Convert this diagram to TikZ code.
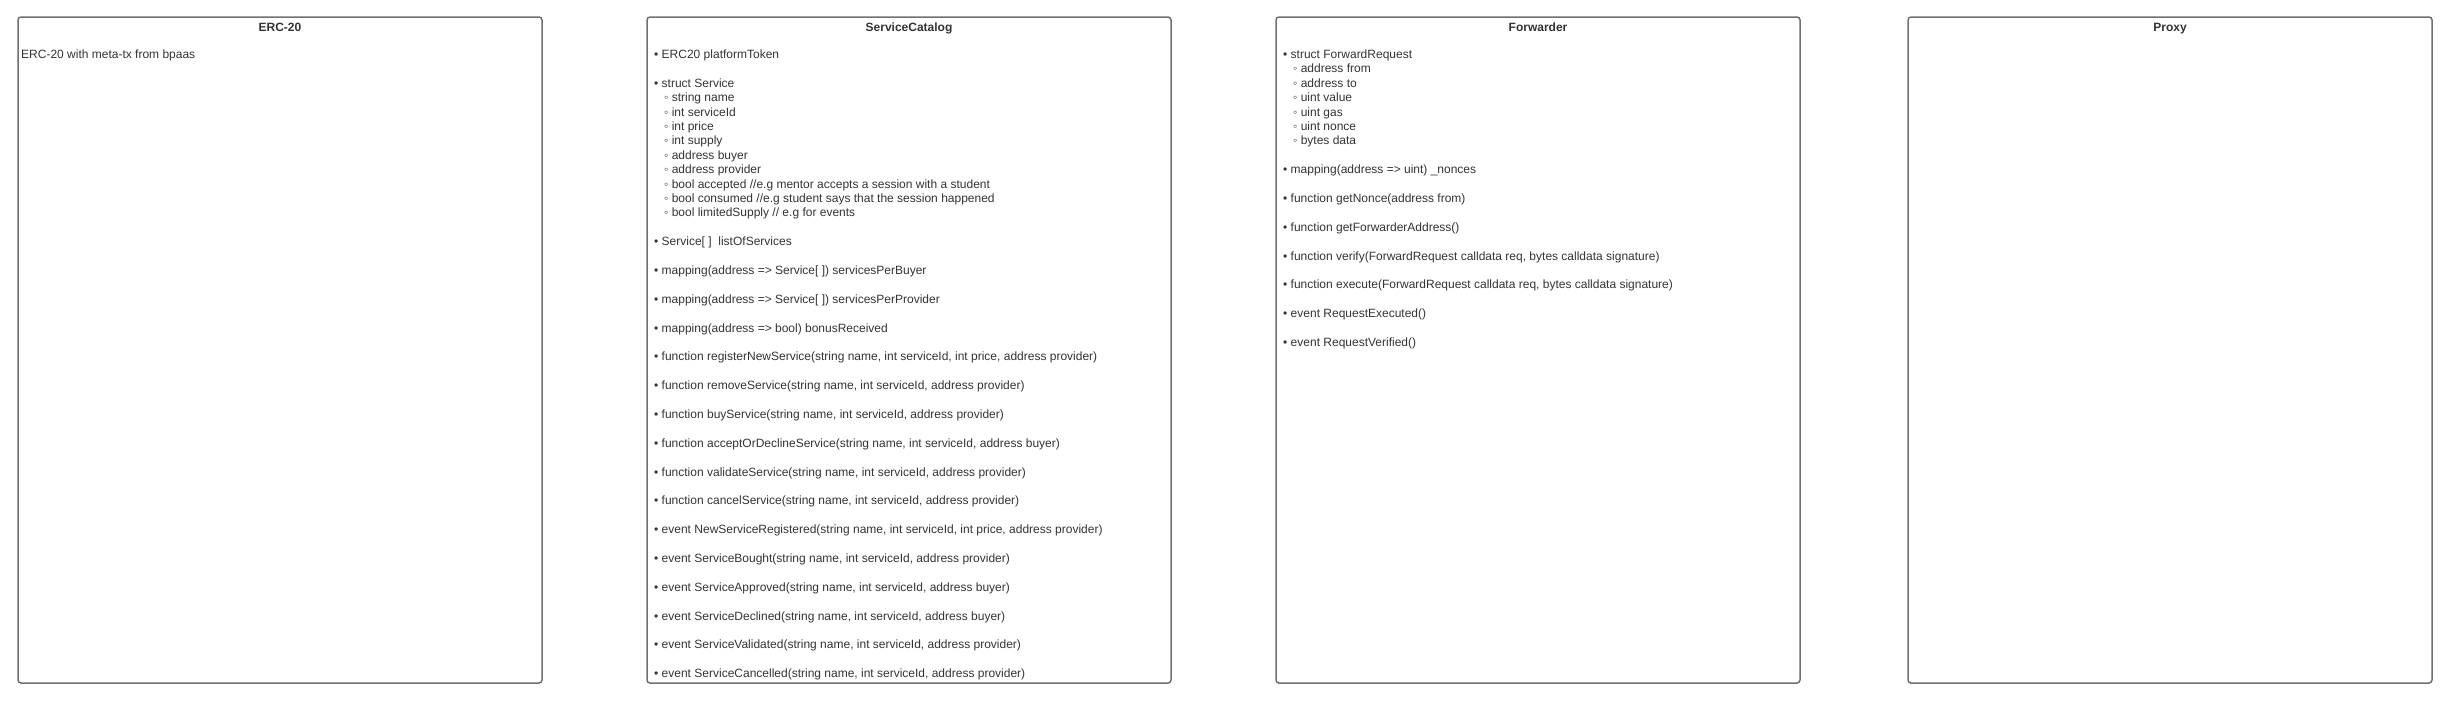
\documentclass[tikz,border=0pt]{standalone}
\usepackage{fontspec}
\setmainfont{Liberation Sans}
\definecolor{inkgray}{HTML}{333333}
\definecolor{framegray}{HTML}{707070}
\newcommand{\fieldline}[1]{\hspace*{10pt}◦ #1}
\newcommand{\gap}{\\[14.4pt]}

\begin{document}
\begin{tikzpicture}[x=1pt, y=-1pt,
    box/.style={draw=framegray, line width=1.5pt, rounded corners=3pt},
    title/.style={font=\bfseries\fontsize{12}{14.4}\selectfont, text=inkgray, inner sep=0pt, anchor=base},
    body/.style={font=\fontsize{12}{14.4}\selectfont, text=inkgray, align=left, anchor=north west, inner sep=0pt}]

    \useasboundingbox (0,0) rectangle (2449,702);

    % 1. The four contract boxes (width 524, height 666)
    \draw[box] (18,17) rectangle (542,683);
    \draw[box] (647,17) rectangle (1171,683);
    \draw[box] (1276,17) rectangle (1800,683);
    \draw[box] (1908,17) rectangle (2432,683);

    % 2. Titles
    \node[title] (ercTitle) at (280,31) {ERC-20};
    \node[title] (catalogTitle) at (909,31) {ServiceCatalog};
    \node[title] (forwarderTitle) at (1538,31) {Forwarder};
    \node[title] (proxyTitle) at (2170,31) {Proxy};

    % 3. Contents
    \node[body] (ercText) at (21,49.5) {ERC-20 with meta-tx from bpaas};

    \node[body] (catalogText) at (654,49.5) {%
        • ERC20 platformToken\gap
        • struct Service\\
        \fieldline{string name}\\
        \fieldline{int serviceId}\\
        \fieldline{int price}\\
        \fieldline{int supply}\\
        \fieldline{address buyer}\\
        \fieldline{address provider}\\
        \fieldline{bool accepted //e.g mentor accepts a session with a student}\\
        \fieldline{bool consumed //e.g student says that the session happened}\\
        \fieldline{bool limitedSupply // e.g for events}\gap
        • Service[ ]\ \ listOfServices\gap
        • mapping(address => Service[ ]) servicesPerBuyer\gap
        • mapping(address => Service[ ]) servicesPerProvider\gap
        • mapping(address => bool) bonusReceived\gap
        • function registerNewService(string name, int serviceId, int price, address provider)\gap
        • function removeService(string name, int serviceId, address provider)\gap
        • function buyService(string name, int serviceId, address provider)\gap
        • function acceptOrDeclineService(string name, int serviceId, address buyer)\gap
        • function validateService(string name, int serviceId, address provider)\gap
        • function cancelService(string name, int serviceId, address provider)\gap
        • event NewServiceRegistered(string name, int serviceId, int price, address provider)\gap
        • event ServiceBought(string name, int serviceId, address provider)\gap
        • event ServiceApproved(string name, int serviceId, address buyer)\gap
        • event ServiceDeclined(string name, int serviceId, address buyer)\gap
        • event ServiceValidated(string name, int serviceId, address provider)\gap
        • event ServiceCancelled(string name, int serviceId, address provider)};

    \node[body] (forwarderText) at (1283,49.5) {%
        • struct ForwardRequest\\
        \fieldline{address from}\\
        \fieldline{address to}\\
        \fieldline{uint value}\\
        \fieldline{uint gas}\\
        \fieldline{uint nonce}\\
        \fieldline{bytes data}\gap
        • mapping(address => uint) \_nonces\gap
        • function getNonce(address from)\gap
        • function getForwarderAddress()\gap
        • function verify(ForwardRequest calldata req, bytes calldata signature)\gap
        • function execute(ForwardRequest calldata req, bytes calldata signature)\gap
        • event RequestExecuted()\gap
        • event RequestVerified()};

\end{tikzpicture}
\end{document}
